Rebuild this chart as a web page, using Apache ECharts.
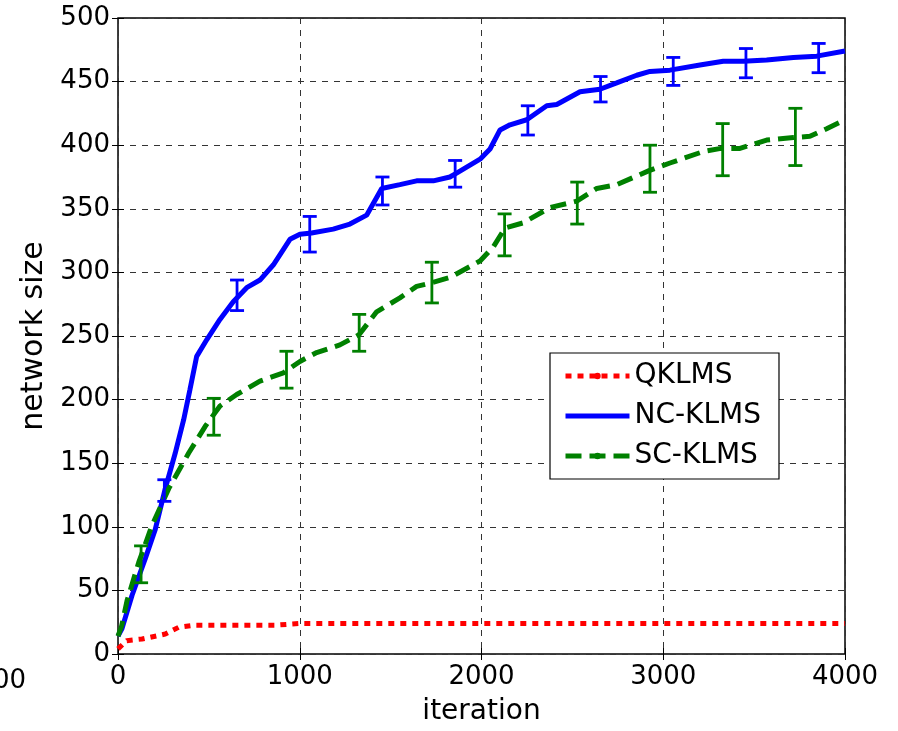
<!DOCTYPE html>
<html>
<head>
<meta charset="utf-8">
<script src="https://cdn.jsdelivr.net/npm/echarts@6/dist/echarts.min.js"></script>
<style>
  html, body { margin: 0; padding: 0; background: #fff; }
  #chart { width: 898px; height: 731px; }
</style>
</head>
<body>
<div id="chart"></div>
<script>
// tick labels
const xTicks = [0, 1000, 2000, 3000, 4000];
const yTicks = [0, 50, 100, 150, 200, 250, 300, 350, 400, 450, 500];

// QKLMS (red, dash-dot)
const qIter = [0, 48, 132, 260, 334, 424, 634, 873, 1001, 4000];
const qSize = [4, 10.5, 11.8, 15.7, 21, 22.7, 22.7, 22.7, 24, 24];

// NC-KLMS (blue, solid)
const ncIter = [0, 22, 77, 150, 205, 260, 315, 361, 396, 433, 488, 561, 634, 708, 781, 855, 946, 1001, 1065, 1184,
  1276, 1368, 1451, 1551, 1643, 1735, 1826, 1863, 1992, 2047, 2102, 2157, 2249, 2359, 2414, 2542, 2652, 2744,
  2854, 2927, 3037, 3202, 3330, 3440, 3569, 3716, 3844, 4000];
const ncSize = [14, 20, 46, 75, 98, 130, 158, 184, 208, 234, 247, 263, 277, 288, 294, 306, 326, 330, 331, 334,
  338, 345, 366, 369, 372, 372, 375, 378, 389, 397, 412, 416, 420, 431, 432, 442, 444, 449,
  455, 458, 459, 463, 466, 466, 467, 469, 470, 474];

// SC-KLMS (green, dashed)
const scIter = [0, 20, 50, 114, 187, 279, 389, 480, 561, 653, 781, 910, 1001, 1093, 1221, 1326, 1423, 1551, 1643,
  1729, 1826, 1992, 2065, 2130, 2230, 2377, 2524, 2634, 2744, 2922, 3037, 3220, 3318, 3422, 3569, 3716, 3807, 3899, 4000];
const scSize = [14, 22, 42, 72, 101, 130, 158, 179, 195, 204, 214.5, 221, 230, 237, 243, 251, 269, 280, 289,
  292, 296, 309, 320, 335, 339, 351, 356, 366, 369, 380, 386, 395, 397.5, 397.5, 404, 406, 407, 413, 420];

// error bars: iteration, low, high
const ncErrIter = [255, 655, 1055, 1455, 1855, 2255, 2655, 3055, 3455, 3855];
const ncErrLow  = [120, 270, 316, 353, 367, 408, 434, 447, 453, 457];
const ncErrHigh = [137, 294, 344, 375, 388, 431, 454, 469, 476, 480];

const scErrIter = [127, 527, 927, 1327, 1727, 2127, 2527, 2927, 3327, 3727];
const scErrLow  = [56, 172, 209, 238, 276, 313, 338, 363, 376, 384];
const scErrHigh = [85, 201, 238, 267, 308, 346, 371, 400, 417, 429];

const RED = '#ff0000', BLUE = '#0000ff', GREEN = '#008000';
const FONT = 'DejaVu Sans';

function zip(a, b, c) {
  return a.map((v, i) => c ? [v, b[i], c[i]] : [v, b[i]]);
}

// draws an I-shaped error bar through the axis scales
function errorBar(color) {
  return function (params, api) {
    const x = api.value(0);
    const lo = api.coord([x, api.value(1)]);
    const hi = api.coord([x, api.value(2)]);
    const half = 7;
    const style = { stroke: color, lineWidth: 2.8 };
    return {
      type: 'group',
      children: [
        { type: 'line', shape: { x1: lo[0], y1: lo[1], x2: hi[0], y2: hi[1] }, style: style },
        { type: 'line', shape: { x1: lo[0] - half, y1: lo[1], x2: lo[0] + half, y2: lo[1] }, style: style },
        { type: 'line', shape: { x1: hi[0] - half, y1: hi[1], x2: hi[0] + half, y2: hi[1] }, style: style }
      ]
    };
  };
}

const splitStyle = { show: true, lineStyle: { color: '#333', width: 1, type: [6, 6] } };

const chart = echarts.init(document.getElementById('chart'));
chart.setOption({
  animation: false,
  backgroundColor: '#fff',
  grid: {
    left: 118, right: 53, top: 18, bottom: 76,
    show: true, borderColor: '#000', borderWidth: 1.5, backgroundColor: '#fff'
  },
  legend: {
    left: 550, top: 353,
    orient: 'vertical',
    data: [
      'QKLMS',
      { name: 'NC-KLMS', itemStyle: { opacity: 0 } },
      'SC-KLMS'
    ],
    backgroundColor: '#fff',
    borderColor: '#000', borderWidth: 1.2, borderRadius: 0,
    padding: [9, 18, 9, 13],
    itemWidth: 64, itemHeight: 8, itemGap: 12,
    lineStyle: { width: 5 },
    textStyle: { fontFamily: FONT, fontSize: 28, color: '#000' }
  },
  xAxis: [{
    type: 'value', min: 0, max: 4000, interval: 1000,
    name: 'iteration', nameLocation: 'middle', nameGap: 44,
    nameTextStyle: { fontFamily: FONT, fontSize: 28, color: '#000' },
    axisLine: { show: false },
    axisTick: { show: true, inside: true, length: 6, lineStyle: { color: '#000' } },
    axisLabel: { fontFamily: FONT, fontSize: 26, color: '#000', margin: 10,
      formatter: v => xTicks.indexOf(v) >= 0 ? String(v) : '' },
    splitLine: splitStyle
  }, {
    type: 'value', min: 0, max: 4000, interval: 1000, position: 'top',
    axisLine: { show: false }, axisLabel: { show: false }, splitLine: { show: false },
    axisTick: { show: true, inside: true, length: 6, lineStyle: { color: '#000' } }
  }],
  yAxis: [{
    type: 'value', min: 0, max: 500, interval: 50,
    name: 'network size', nameLocation: 'middle', nameGap: 62, nameRotate: 90,
    nameTextStyle: { fontFamily: FONT, fontSize: 30, color: '#000' },
    axisLine: { show: false },
    axisTick: { show: true, inside: true, length: 6, lineStyle: { color: '#000' } },
    axisLabel: { fontFamily: FONT, fontSize: 26, color: '#000', margin: 8,
      formatter: v => yTicks.indexOf(v) >= 0 ? String(v) : '' },
    splitLine: splitStyle
  }, {
    type: 'value', min: 0, max: 500, interval: 50, position: 'right',
    axisLine: { show: false }, axisLabel: { show: false }, splitLine: { show: false },
    axisTick: { show: true, inside: true, length: 6, lineStyle: { color: '#000' } }
  }],
  graphic: [{
    type: 'text', left: -7, top: 668,
    style: { text: '00', font: '26px "DejaVu Sans"', fill: '#000' }
  }],
  series: [
    {
      name: 'QKLMS', type: 'line', data: zip(qIter, qSize),
      showSymbol: false, symbol: 'circle', symbolSize: 6, z: 3,
      itemStyle: { color: RED },
      lineStyle: { color: RED, width: 5, type: [6, 6], cap: 'butt' }
    },
    {
      name: 'NC-KLMS', type: 'line', data: zip(ncIter, ncSize),
      showSymbol: false, symbol: 'none', z: 4,
      itemStyle: { color: BLUE },
      lineStyle: { color: BLUE, width: 5 }
    },
    {
      name: 'SC-KLMS', type: 'line', data: zip(scIter, scSize),
      showSymbol: false, symbol: 'circle', symbolSize: 6, z: 5,
      itemStyle: { color: GREEN },
      lineStyle: { color: GREEN, width: 5, type: [16, 8], cap: 'butt' }
    },
    {
      type: 'custom', data: zip(ncErrIter, ncErrLow, ncErrHigh),
      renderItem: errorBar(BLUE), z: 6, silent: true
    },
    {
      type: 'custom', data: zip(scErrIter, scErrLow, scErrHigh),
      renderItem: errorBar(GREEN), z: 6, silent: true
    }
  ]
});
</script>
</body>
</html>
